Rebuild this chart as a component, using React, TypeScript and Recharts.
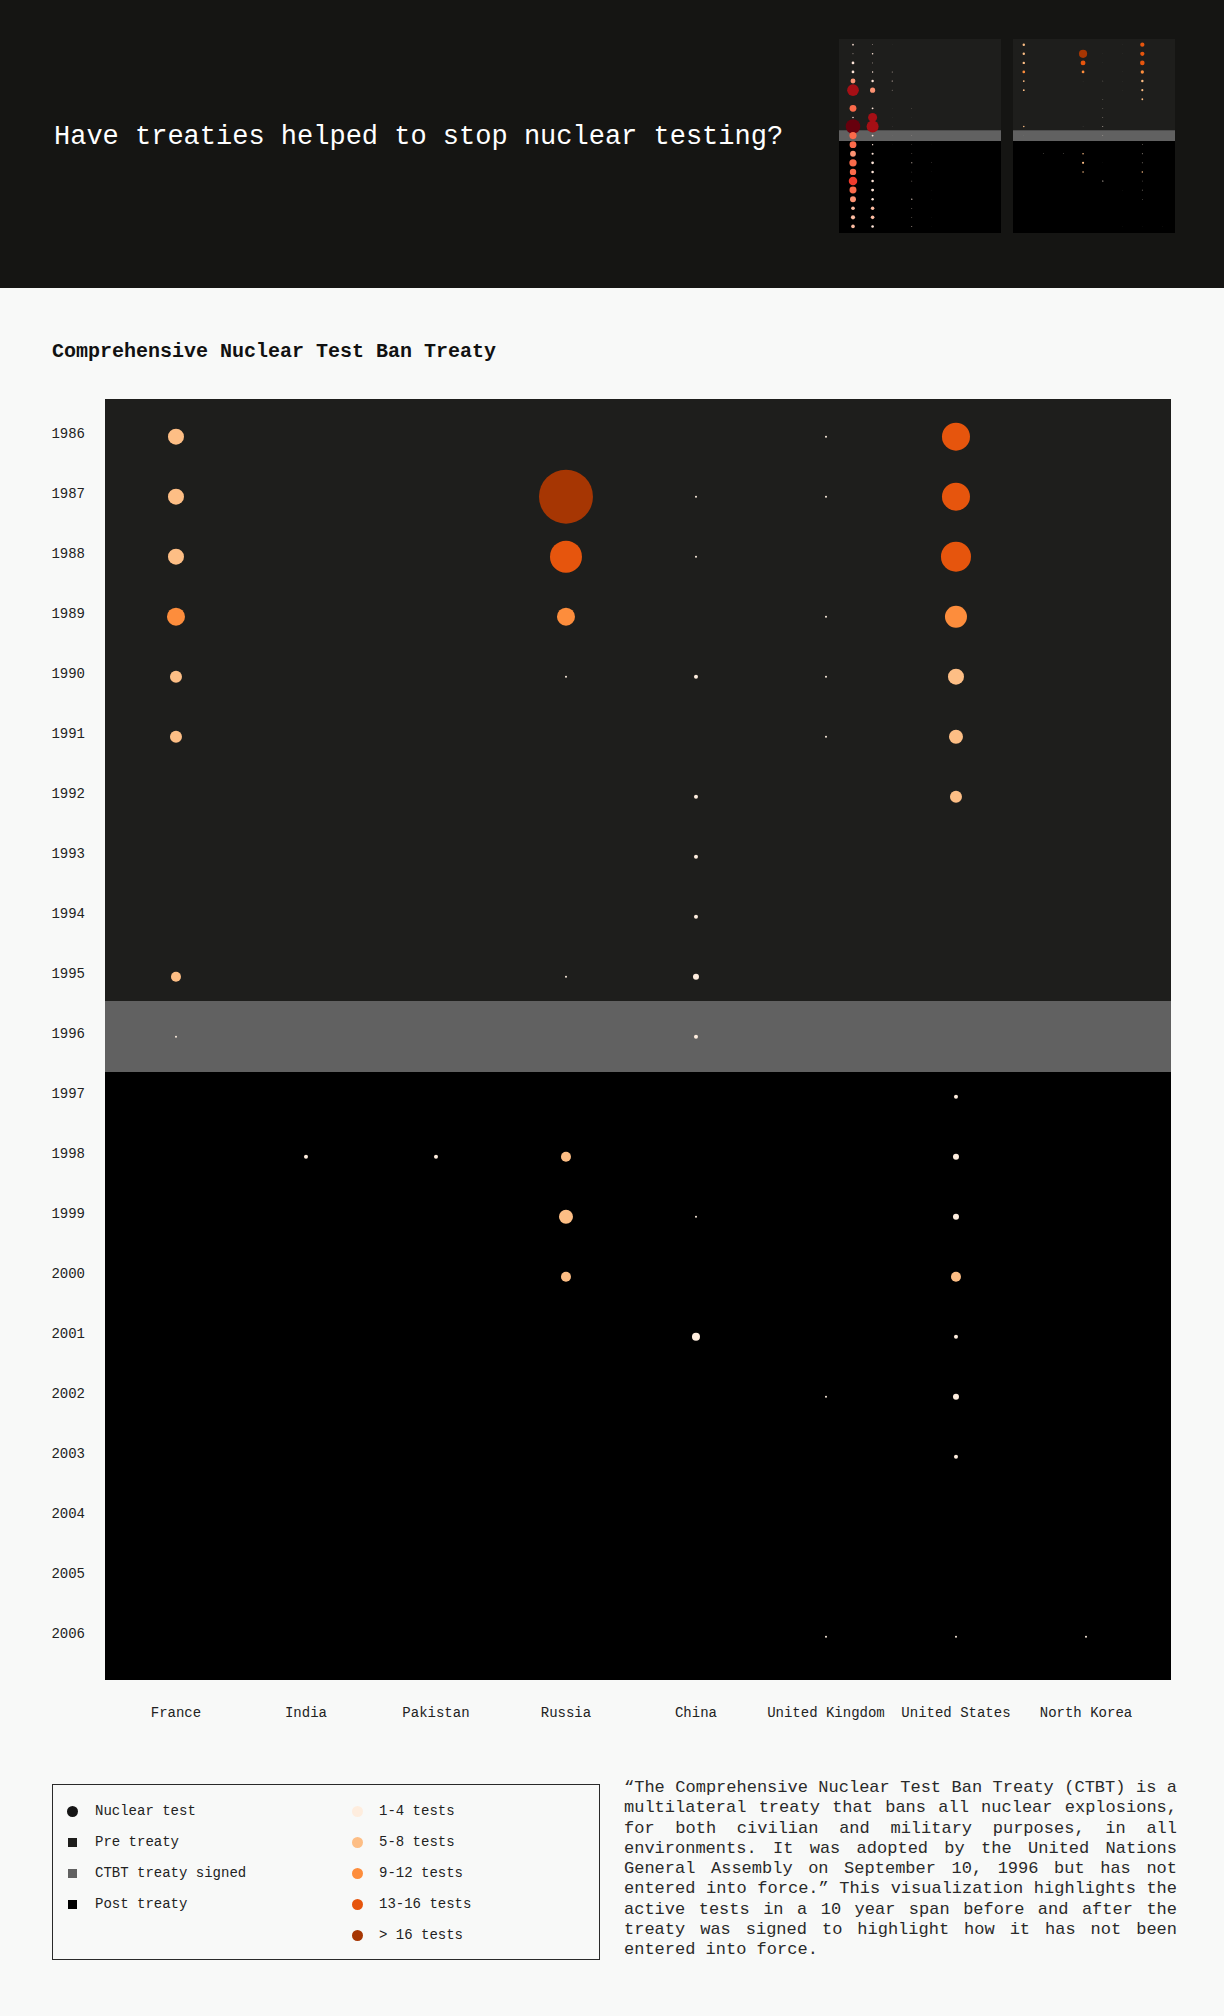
import React from "react";
import { ReferenceArea, Scatter, ScatterChart, XAxis, YAxis } from "recharts";

// CTBT: ten years either side of 1996
const countries = [
  "France",
  "India",
  "Pakistan",
  "Russia",
  "China",
  "United Kingdom",
  "United States",
  "North Korea",
];
const years = [
  1986, 1987, 1988, 1989, 1990, 1991, 1992, 1993, 1994, 1995, 1996, 1997, 1998,
  1999, 2000, 2001, 2002, 2003, 2004, 2005, 2006,
];
const france = [8, 8, 8, 9, 6, 6, 0, 0, 0, 5, 1, 0, 0, 0, 0, 0, 0, 0, 0, 0, 0];
const india = [0, 0, 0, 0, 0, 0, 0, 0, 0, 0, 0, 0, 2, 0, 0, 0, 0, 0, 0, 0, 0];
const pakistan = [0, 0, 0, 0, 0, 0, 0, 0, 0, 0, 0, 0, 2, 0, 0, 0, 0, 0, 0, 0, 0];
const russia = [0, 27, 16, 9, 1, 0, 0, 0, 0, 1, 0, 0, 5, 7, 5, 0, 0, 0, 0, 0, 0];
const china = [0, 1, 1, 0, 2, 0, 2, 2, 2, 3, 2, 0, 0, 1, 0, 4, 0, 0, 0, 0, 0];
const unitedKingdom = [1, 1, 0, 1, 1, 1, 0, 0, 0, 0, 0, 0, 0, 0, 0, 0, 1, 0, 0, 0, 1];
const unitedStates = [14, 14, 15, 11, 8, 7, 6, 0, 0, 0, 0, 2, 3, 3, 5, 2, 3, 2, 0, 0, 1];
const northKorea = [0, 0, 0, 0, 0, 0, 0, 0, 0, 0, 0, 0, 0, 0, 0, 0, 0, 0, 0, 0, 1];
const ctbtSeries = [france, india, pakistan, russia, china, unitedKingdom, unitedStates, northKorea];

// thumbnail: Partial Test Ban Treaty, 1963 (US, USSR, UK, France, China)
const ptbtYears = [
  1953, 1954, 1955, 1956, 1957, 1958, 1959, 1960, 1961, 1962, 1963, 1964, 1965,
  1966, 1967, 1968, 1969, 1970, 1971, 1972, 1973,
];
const ptbtUS = [11, 6, 18, 18, 32, 77, 0, 45, 10, 96, 47, 45, 38, 48, 42, 56, 46, 39, 24, 27, 24];
const ptbtUSSR = [5, 10, 6, 9, 16, 34, 0, 12, 59, 79, 12, 9, 14, 18, 17, 17, 19, 16, 23, 24, 17];
const ptbtUK = [2, 0, 0, 6, 7, 5, 0, 2, 2, 2, 2, 2, 1, 0, 0, 0, 0, 0, 0, 0, 0];
const ptbtFrance = [0, 0, 0, 0, 0, 0, 0, 3, 2, 1, 3, 3, 4, 7, 3, 5, 0, 8, 5, 4, 6];
const ptbtChina = [0, 0, 0, 0, 0, 0, 0, 0, 0, 0, 0, 1, 1, 3, 2, 1, 2, 1, 1, 2, 1];
const ptbtSeries = [ptbtUS, ptbtUSSR, ptbtUK, ptbtFrance, ptbtChina];

const orangeBins = [4, 8, 12, 16];
const orangeColors = ["#feedde", "#fdbe85", "#fd8d3c", "#e6550d", "#a63603"];
const orangeLabels = ["1-4 tests", "5-8 tests", "9-12 tests", "13-16 tests", "> 16 tests"];
const redBins = [20, 30, 40, 50, 57, 80];
const redColors = ["#fee5d9", "#fcbba1", "#fc9272", "#fb6a4a", "#ef3b2c", "#a50f15", "#67000d"];

const MONO = "'Liberation Mono', 'Courier New', monospace";
const PRE = "#1e1e1c";
const SIGNED = "#616161";
const POST = "#000000";

// axis padding in column / row units
const X_DOMAIN: [number, number] = [-0.546, 7.654];
const X_DOMAIN_PTBT: [number, number] = [-0.714, 7.55];
const PAD_TOP = 0.628;
const PAD_BOTTOM = 0.722;
const BAND_ABOVE = 0.595;
const BAND_BELOW = 0.588;

type Pt = { x: number; y: number; n: number };

function toPoints(series: number[][], yrs: number[]): Pt[] {
  const out: Pt[] = [];
  series.forEach((vals, i) =>
    vals.forEach((n, j) => {
      if (n > 0) out.push({ x: i, y: yrs[j], n });
    }),
  );
  return out;
}

function pickColor(n: number, bins: number[], colors: string[]) {
  const i = bins.findIndex((b) => n <= b);
  return colors[i === -1 ? colors.length - 1 : i];
}

function TreatyPlot({
  width,
  height,
  margin,
  points,
  yrs,
  treatyYear,
  dotScale,
  bins,
  colors,
  xDomain = X_DOMAIN,
  thumb,
}: {
  width: number;
  height: number;
  margin: { top: number; right: number; bottom: number; left: number };
  points: Pt[];
  yrs: number[];
  treatyYear: number;
  dotScale: number;
  bins: number[];
  colors: string[];
  xDomain?: [number, number];
  thumb?: boolean;
}) {
  const yMin = yrs[0] - PAD_TOP;
  const yMax = yrs[yrs.length - 1] + PAD_BOTTOM;
  const bandTop = treatyYear - BAND_ABOVE;
  const bandBottom = treatyYear + BAND_BELOW;

  return (
    <ScatterChart width={width} height={height} margin={margin}>
      <XAxis
        type="number"
        dataKey="x"
        domain={xDomain}
        allowDataOverflow
        ticks={countries.map((_, i) => i)}
        interval={0}
        hide={thumb}
        height={60}
        axisLine={false}
        tickLine={false}
        tick={(p: any) => (
          <text
            x={p.x}
            y={p.y}
            dy={29}
            textAnchor="middle"
            fontFamily={MONO}
            fontSize={14}
            fill="#222"
          >
            {countries[p.payload.value]}
          </text>
        )}
      />
      <YAxis
        type="number"
        dataKey="y"
        reversed
        domain={[yMin, yMax]}
        allowDataOverflow
        ticks={yrs}
        interval={0}
        hide={thumb}
        width={53}
        axisLine={false}
        tickLine={false}
        tickMargin={14}
        tick={(p: any) => (
          <text
            x={p.x}
            y={p.y}
            dy={1}
            textAnchor="end"
            fontFamily={MONO}
            fontSize={14}
            fill="#222"
          >
            {p.payload.value}
          </text>
        )}
      />
      <ReferenceArea y1={yMin} y2={bandTop} fill={PRE} fillOpacity={1} ifOverflow="visible" />
      <ReferenceArea y1={bandTop} y2={bandBottom} fill={SIGNED} fillOpacity={1} ifOverflow="visible" />
      <ReferenceArea y1={bandBottom} y2={yMax} fill={POST} fillOpacity={1} ifOverflow="visible" />
      <Scatter
        data={points}
        isAnimationActive={false}
        shape={(p: any) => (
          <circle
            cx={p.cx}
            cy={p.cy}
            r={p.payload.n * dotScale}
            fill={pickColor(p.payload.n, bins, colors)}
          />
        )}
      />
    </ScatterChart>
  );
}

const noMargin = { top: 0, right: 0, bottom: 0, left: 0 };

export default function App() {
  const ctbtPoints = toPoints(ctbtSeries, years);
  const ptbtPoints = toPoints(ptbtSeries, ptbtYears);

  const legendRows = [1811, 1842, 1873, 1904, 1935];
  const leftItems = [
    { label: "Nuclear test", color: "#151515", round: true },
    { label: "Pre treaty", color: PRE, round: false },
    { label: "CTBT treaty signed", color: SIGNED, round: false },
    { label: "Post treaty", color: POST, round: false },
  ];

  return (
    <div
      style={{
        position: "relative",
        width: 1224,
        height: 2016,
        background: "#f8f9f8",
        fontFamily: MONO,
        overflow: "hidden",
      }}
    >
      <style>{`body{margin:0}`}</style>

      {/* header */}
      <div style={{ position: "absolute", left: 0, top: 0, width: 1224, height: 288, background: "#151513" }} />
      <div
        style={{
          position: "absolute",
          left: 54,
          top: 124,
          fontSize: 27,
          lineHeight: "27px",
          color: "#fff",
          whiteSpace: "nowrap",
        }}
      >
        Have treaties helped to stop nuclear testing?
      </div>
      <div style={{ position: "absolute", left: 839, top: 39 }}>
        <TreatyPlot
          width={162}
          height={194}
          margin={noMargin}
          points={ptbtPoints}
          yrs={ptbtYears}
          treatyYear={1963}
          dotScale={0.076}
          bins={redBins}
          colors={redColors}
          xDomain={X_DOMAIN_PTBT}
          thumb
        />
      </div>
      <div style={{ position: "absolute", left: 1013, top: 39 }}>
        <TreatyPlot
          width={162}
          height={194}
          margin={noMargin}
          points={ctbtPoints}
          yrs={years}
          treatyYear={1996}
          dotScale={0.152}
          bins={orangeBins}
          colors={orangeColors}
          thumb
        />
      </div>

      {/* main chart */}
      <div
        style={{
          position: "absolute",
          left: 52,
          top: 342,
          fontSize: 20,
          lineHeight: "20px",
          fontWeight: 700,
          color: "#111",
          whiteSpace: "nowrap",
        }}
      >
        Comprehensive Nuclear Test Ban Treaty
      </div>
      <div style={{ position: "absolute", left: 0, top: 380 }}>
        <TreatyPlot
          width={1224}
          height={1380}
          margin={{ top: 19, right: 53, bottom: 20, left: 52 }}
          points={ctbtPoints}
          yrs={years}
          treatyYear={1996}
          dotScale={1}
          bins={orangeBins}
          colors={orangeColors}
        />
      </div>

      {/* legend */}
      <div
        style={{
          position: "absolute",
          left: 52,
          top: 1784,
          width: 546,
          height: 174,
          border: "1px solid #2a2a2a",
        }}
      />
      {leftItems.map((it, i) => (
        <div key={it.label}>
          <div
            style={{
              position: "absolute",
              left: it.round ? 67 : 68,
              top: legendRows[i] - (it.round ? 5.5 : 4.5),
              width: it.round ? 11 : 9,
              height: it.round ? 11 : 9,
              borderRadius: it.round ? "50%" : 0,
              background: it.color,
            }}
          />
          <div
            style={{
              position: "absolute",
              left: 95,
              top: legendRows[i] - 10,
              fontSize: 14,
              lineHeight: "20px",
              color: "#222",
              whiteSpace: "nowrap",
            }}
          >
            {it.label}
          </div>
        </div>
      ))}
      {orangeLabels.map((label, i) => (
        <div key={label}>
          <div
            style={{
              position: "absolute",
              left: 352,
              top: legendRows[i] - 5.5,
              width: 11,
              height: 11,
              borderRadius: "50%",
              background: orangeColors[i],
            }}
          />
          <div
            style={{
              position: "absolute",
              left: 379,
              top: legendRows[i] - 10,
              fontSize: 14,
              lineHeight: "20px",
              color: "#222",
              whiteSpace: "nowrap",
            }}
          >
            {label}
          </div>
        </div>
      ))}

      {/* note */}
      <div
        style={{
          position: "absolute",
          left: 624,
          top: 1778,
          width: 553,
          fontSize: 17,
          lineHeight: "20.25px",
          textAlign: "justify",
          color: "#2a2a2a",
        }}
      >
        “The Comprehensive Nuclear Test Ban Treaty (CTBT) is a multilateral treaty that bans all
        nuclear explosions, for both civilian and military purposes, in all environments. It was
        adopted by the United Nations General Assembly on September 10, 1996 but has not entered
        into force.” This visualization highlights the active tests in a 10 year span before and
        after the treaty was signed to highlight how it has not been entered into force.
      </div>
    </div>
  );
}
